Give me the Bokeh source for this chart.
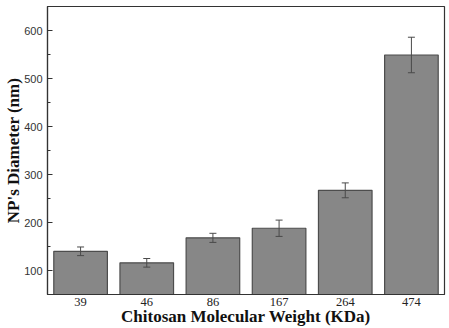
from bokeh.plotting import figure
from bokeh.models import ColumnDataSource, Whisker, TeeHead, SingleIntervalTicker, Range1d
from bokeh.embed import file_html
from bokeh.resources import INLINE

# Chitosan molecular weight (KDa) vs nanoparticle diameter (nm)
weights = ["39", "46", "86", "167", "264", "474"]
diameter = [140, 116, 168, 188, 267, 549]
diameter_err = [9, 9, 9.5, 17, 15.5, 37]

src = ColumnDataSource(dict(
    w=weights,
    d=diameter,
    lo=[d - e for d, e in zip(diameter, diameter_err)],
    hi=[d + e for d, e in zip(diameter, diameter_err)],
))

p = figure(
    x_range=weights, y_range=Range1d(50, 650),
    width=449, height=328,
    output_backend="svg", toolbar_location=None,
    min_border_left=47, min_border_right=5, min_border_top=6, min_border_bottom=34,
)
p.x_range.range_padding = 0

p.vbar(x="w", top="d", bottom=0, width=0.81, source=src,
       fill_color="#878787", line_color="#4d4d4d", line_width=1.2)

# error bars drawn above the bars
err = Whisker(base="w", lower="lo", upper="hi", source=src, level="overlay",
              line_color="#4a4a4a", line_width=1,
              upper_head=TeeHead(size=7, line_color="#4a4a4a", line_width=1),
              lower_head=TeeHead(size=7, line_color="#4a4a4a", line_width=1))
p.add_layout(err)

p.xgrid.visible = False
p.ygrid.visible = False
p.outline_line_color = "#333333"
p.outline_line_width = 1.2

# y axis
p.yaxis.ticker = SingleIntervalTicker(interval=100, num_minor_ticks=2)
p.yaxis.axis_label = "NP's Diameter (nm)"
p.yaxis.axis_label_text_font = "Liberation Serif"
p.yaxis.axis_label_text_font_style = "bold"
p.yaxis.axis_label_text_font_size = "17px"
p.yaxis.axis_label_text_color = "#111111"
p.yaxis.axis_label_standoff = -2
p.yaxis.major_label_text_font = "Liberation Sans"
p.yaxis.major_label_text_font_size = "11px"
p.yaxis.major_label_text_color = "#333333"
p.yaxis.major_label_standoff = 5
p.yaxis.major_tick_in = 5
p.yaxis.major_tick_out = 0
p.yaxis.minor_tick_in = 3
p.yaxis.minor_tick_out = 0
p.yaxis.axis_line_color = "#333333"
p.yaxis.axis_line_width = 1.2
p.yaxis.major_tick_line_color = "#333333"
p.yaxis.minor_tick_line_color = "#333333"

# x axis
p.xaxis.axis_label = "Chitosan Molecular Weight (KDa)"
p.xaxis.axis_label_text_font = "Liberation Serif"
p.xaxis.axis_label_text_font_style = "bold"
p.xaxis.axis_label_text_font_size = "17px"
p.xaxis.axis_label_text_color = "#111111"
p.xaxis.axis_label_standoff = -2
p.xaxis.major_label_text_font = "Liberation Serif"
p.xaxis.major_label_text_font_size = "12.5px"
p.xaxis.major_label_text_color = "#222222"
p.xaxis.major_label_standoff = -3
p.xaxis.major_tick_line_color = None
p.xaxis.minor_tick_line_color = None
p.xaxis.axis_line_color = "#333333"
p.xaxis.axis_line_width = 1.2

open("out.html", "w").write(file_html(p, INLINE))
